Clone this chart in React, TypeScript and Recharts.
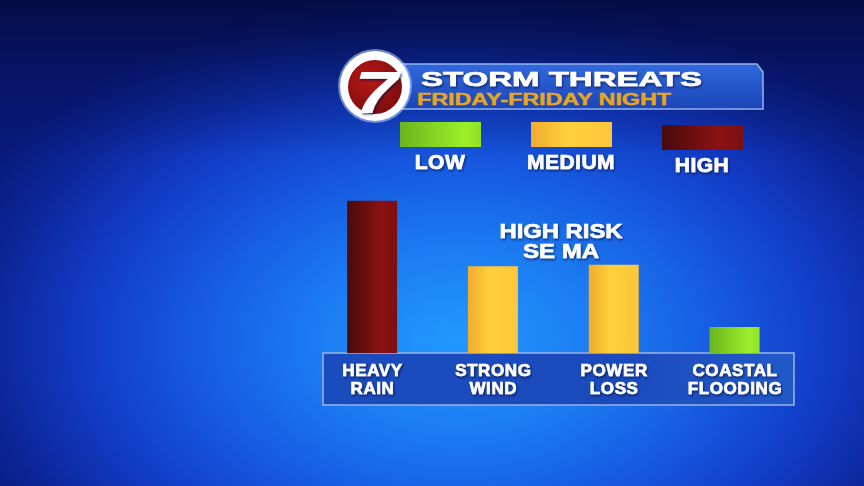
import React from "react";
import { BarChart, Bar, XAxis, YAxis, Cell, Legend } from "recharts";

// threat categories and their level (0-100)
const threats = ["HEAVY RAIN", "STRONG WIND", "POWER LOSS", "COASTAL FLOODING"];
const threatLevels = [100, 57, 58, 17];
const threatRisk = ["HIGH", "MEDIUM", "MEDIUM", "LOW"];
const riskLevels = ["LOW", "MEDIUM", "HIGH"];

const data = threats.map((name, i) => ({
  name,
  level: threatLevels[i],
  risk: threatRisk[i],
}));

const riskFill: Record<string, string> = {
  LOW: "url(#gLow)",
  MEDIUM: "url(#gMed)",
  HIGH: "url(#gHigh)",
};

const FONT = "'Liberation Sans', Arial, Helvetica, sans-serif";

function ThreatTick(props: any) {
  const { x, y, payload } = props;
  const words = String(payload.value).split(" ");
  return (
    <g transform={`translate(${x},${y})`}>
      <text
        textAnchor="middle"
        fill="#ffffff"
        stroke="#ffffff"
        strokeWidth={0.6}
        fontSize={17}
        fontWeight={700}
        fontFamily={FONT}
        letterSpacing={0.6}
        filter="url(#txtShadow)"
      >
        <tspan x={0} dy={23}>{words[0]}</tspan>
        <tspan x={0} dy={18}>{words[1]}</tspan>
      </text>
    </g>
  );
}

function RiskLegend() {
  return (
    <svg width={864} height={180} style={{ display: "block" }}>
      {riskLevels.map((r, i) => {
        const cx = 440 + i * 131;
        const off = r === "HIGH" ? 3 : 0;
        return (
          <g key={r}>
            <rect x={cx - 40} y={122 + off} width={81} height={25} fill={riskFill[r]} />
            <text
              x={cx}
              y={169 + off}
              textAnchor="middle"
              fill="#ffffff"
              stroke="#ffffff"
              strokeWidth={0.7}
              fontSize={21}
              fontWeight={700}
              fontFamily={FONT}
              letterSpacing={0.5}
              filter="url(#txtShadow)"
            >
              {r}
            </text>
          </g>
        );
      })}
    </svg>
  );
}

function Backdrop() {
  return (
    <svg width={864} height={486} style={{ position: "absolute", left: 0, top: 0 }}>
      <defs>
        <linearGradient id="gHigh" x1="0" y1="0" x2="1" y2="0">
          <stop offset="0%" stopColor="#470b0b" />
          <stop offset="70%" stopColor="#8c1212" />
          <stop offset="100%" stopColor="#7a1010" />
        </linearGradient>
        <linearGradient id="gMed" x1="0" y1="0" x2="1" y2="0">
          <stop offset="0%" stopColor="#f0ac2e" />
          <stop offset="45%" stopColor="#ffd03e" />
          <stop offset="100%" stopColor="#fcc63a" />
        </linearGradient>
        <linearGradient id="gLow" x1="0" y1="0" x2="1" y2="0">
          <stop offset="0%" stopColor="#6ab41e" />
          <stop offset="80%" stopColor="#9cf02a" />
          <stop offset="100%" stopColor="#8fe026" />
        </linearGradient>
        <linearGradient id="gBanner" x1="0" y1="0" x2="0" y2="1">
          <stop offset="0%" stopColor="#3169dc" />
          <stop offset="100%" stopColor="#1a45b8" />
        </linearGradient>
        <linearGradient id="gBox" x1="0" y1="0" x2="1" y2="0">
          <stop offset="0%" stopColor="#1b4cbd" />
          <stop offset="60%" stopColor="#1a4abb" />
          <stop offset="100%" stopColor="#2259c9" />
        </linearGradient>
        <radialGradient id="gLogo" cx="0.4" cy="0.35" r="0.7">
          <stop offset="0%" stopColor="#b81818" />
          <stop offset="100%" stopColor="#7d0c0c" />
        </radialGradient>
        <filter id="txtShadow" x="-10%" y="-20%" width="120%" height="150%">
          <feDropShadow dx="1" dy="1.5" stdDeviation="1" floodColor="#000a40" floodOpacity="0.7" />
        </filter>
      </defs>

      {/* title banner */}
      <polygon
        points="395,64 757,64 763,72 763,109 395,109"
        fill="url(#gBanner)"
        stroke="#93b3ec"
        strokeWidth={1.5}
      />
      <circle cx={375} cy={86} r={37} fill="#cfe4ff" opacity={0.5} />
      <circle cx={375} cy={86} r={35} fill="#ffffff" />
      <circle cx={375} cy={87} r={27} fill="url(#gLogo)" />
      <g transform="translate(376,113) scale(1.3,1)">
        <text
          x={0}
          y={0}
          textAnchor="middle"
          fill="#ffffff"
          fontSize={60}
          fontWeight={700}
          fontStyle="italic"
          fontFamily={FONT}
          filter="url(#txtShadow)"
        >
          7
        </text>
      </g>
      <text
        x={421}
        y={86}
        fill="#ffffff"
        stroke="#ffffff"
        strokeWidth={0.6}
        fontSize={21}
        fontWeight={700}
        fontFamily={FONT}
        textLength={281}
        lengthAdjust="spacingAndGlyphs"
        filter="url(#txtShadow)"
      >
        STORM THREATS
      </text>
      <text
        x={417}
        y={105}
        fill="#e8a61c"
        stroke="#e8a61c"
        strokeWidth={0.4}
        fontSize={16}
        fontWeight={700}
        fontFamily={FONT}
        textLength={254}
        lengthAdjust="spacingAndGlyphs"
      >
        FRIDAY-FRIDAY NIGHT
      </text>

      {/* category label box */}
      <rect x={323} y={353} width={471} height={52} fill="url(#gBox)" stroke="#9ab4e2" strokeWidth={1.5} />

      {/* annotation */}
      <g
        fill="#ffffff"
        stroke="#ffffff"
        strokeWidth={0.6}
        fontSize={20}
        fontWeight={700}
        fontFamily={FONT}
        filter="url(#txtShadow)"
        textAnchor="middle"
      >
        <text x={561} y={238} textLength={123} lengthAdjust="spacingAndGlyphs">HIGH RISK</text>
        <text x={561} y={258} textLength={76} lengthAdjust="spacingAndGlyphs">SE MA</text>
      </g>
    </svg>
  );
}

export default function App() {
  return (
    <div
      style={{
        position: "absolute",
        left: 0,
        top: 0,
        width: 864,
        height: 486,
        overflow: "hidden",
        background:
          "linear-gradient(to bottom, rgba(3,10,60,0.85) 0%, rgba(3,10,60,0.35) 15%, rgba(3,10,60,0) 32%)," +
          "radial-gradient(ellipse 62% 72% at 53% 70%, #2298ff 0%, #1c7ef3 25%, #1659e0 50%, #1138c0 72%, #0c2596 88%, #081a7c 100%)",
      }}
    >
      <Backdrop />
      <div style={{ position: "absolute", left: 0, top: 0 }}>
        <BarChart
          width={864}
          height={486}
          data={data}
          margin={{ top: 200.7, right: 68.6, left: 312.1, bottom: 81 }}
        >
          <YAxis hide domain={[0, 100]} />
          <XAxis
            dataKey="name"
            axisLine={false}
            tickLine={false}
            tickSize={0}
            tickMargin={0}
            height={52}
            interval={0}
            tick={(p: any) => <ThreatTick {...p} />}
          />
          <Legend
            layout="horizontal"
            verticalAlign="middle"
            align="center"
            content={() => <RiskLegend />}
            wrapperStyle={{ left: 0, top: 0, width: 864, height: 180 }}
          />
          <Bar dataKey="level" barSize={50} isAnimationActive={false}>
            {data.map((d) => (
              <Cell key={d.name} fill={riskFill[d.risk]} />
            ))}
          </Bar>
        </BarChart>
      </div>
    </div>
  );
}
